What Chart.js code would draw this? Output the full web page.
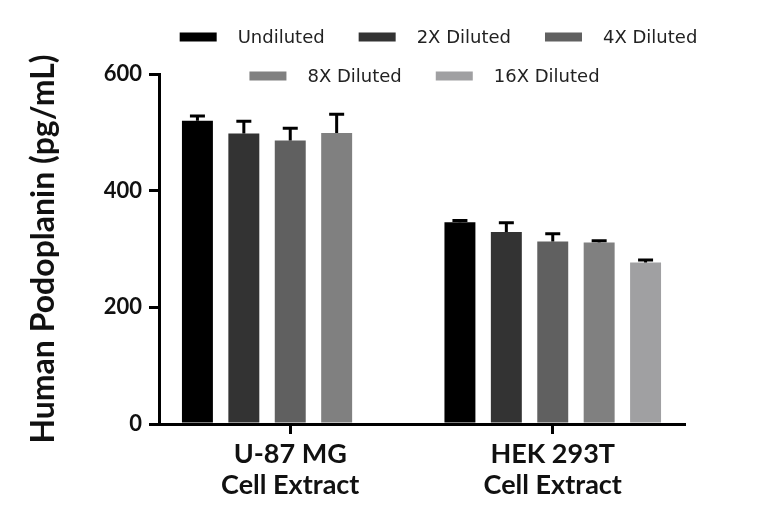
<!DOCTYPE html>
<html>
<head>
<meta charset="utf-8">
<script src="https://cdn.jsdelivr.net/npm/chart.js@4.4.0/dist/chart.umd.min.js"></script>
<style>
  html, body { margin: 0; padding: 0; background: #fff; }
  #wrap { width: 768px; height: 526px; }
</style>
</head>
<body>
<div id="wrap"><canvas id="chart"></canvas></div>
<script>
// 数据
const categories = [['U-87 MG', 'Cell Extract'], ['HEK 293T', 'Cell Extract']];
const seriesNames = ['Undiluted', '2X Diluted', '4X Diluted', '8X Diluted', '16X Diluted'];
const seriesColors = ['#000000', '#333333', '#606060', '#808080', '#a0a0a2'];

const undiluted = [520, 346];
const diluted2x = [498, 329];
const diluted4x = [486, 313];
const diluted8x = [499, 311];
const diluted16x = [null, 277];

const errUndiluted = [8, 3];
const err2x = [21, 16];
const err4x = [21, 13];
const err8x = [32, 3];
const err16x = [null, 4];

const yTicks = [0, 200, 400, 600];
const legendRows = [[0, 1, 2], [3, 4]];

const seriesValues = [undiluted, diluted2x, diluted4x, diluted8x, diluted16x];
const seriesErrors = [errUndiluted, err2x, err4x, err8x, err16x];

const BOLD_FONT = 'Lato, "DejaVu Sans", sans-serif';
const LEGEND_FONT = '"DejaVu Sans", sans-serif';

// 误差线（只画上方）
const errorBars = {
    id: 'errorBars',
    afterDatasetsDraw(chart) {
        const ctx = chart.ctx;
        const yScale = chart.scales.y;
        ctx.save();
        ctx.strokeStyle = '#000';
        ctx.lineWidth = 3;
        chart.data.datasets.forEach((ds, i) => {
            const meta = chart.getDatasetMeta(i);
            meta.data.forEach((bar, j) => {
                const v = ds.data[j];
                const e = seriesErrors[i][j];
                if (v === null || e === null) return;
                const yTop = yScale.getPixelForValue(v + e);
                const cap = 7.5;
                ctx.beginPath();
                ctx.moveTo(bar.x, bar.y);
                ctx.lineTo(bar.x, yTop);
                ctx.moveTo(bar.x - cap, yTop);
                ctx.lineTo(bar.x + cap, yTop);
                ctx.stroke();
            });
        });
        ctx.restore();
    }
};

// 两行图例
const rowLegend = {
    id: 'rowLegend',
    afterDraw(chart) {
        const ctx = chart.ctx;
        const area = chart.chartArea;
        const boxW = 37, boxH = 9, textGap = 21, itemGap = 34;
        const rowY = [37, 76];
        const rowShift = [17, 3];
        ctx.save();
        ctx.font = '18px ' + LEGEND_FONT;
        ctx.textBaseline = 'middle';
        legendRows.forEach((row, r) => {
            const widths = row.map(i => boxW + textGap + ctx.measureText(seriesNames[i]).width);
            const total = widths.reduce((a, b) => a + b, 0) + itemGap * (row.length - 1);
            let x = (area.left + area.right) / 2 + rowShift[r] - total / 2;
            row.forEach((i, k) => {
                ctx.fillStyle = seriesColors[i];
                ctx.fillRect(x, rowY[r] - boxH / 2, boxW, boxH);
                ctx.fillStyle = '#222';
                ctx.fillText(seriesNames[i], x + boxW + textGap, rowY[r] + 1);
                x += widths[k] + itemGap;
            });
        });
        ctx.restore();
    }
};

new Chart(document.getElementById('chart'), {
    type: 'bar',
    data: {
        labels: categories,
        datasets: seriesNames.map((name, i) => ({
            label: name,
            data: seriesValues[i],
            backgroundColor: seriesColors[i],
            borderWidth: 0,
            categoryPercentage: 0.884,
            barPercentage: 0.667
        }))
    },
    options: {
        responsive: true,
        maintainAspectRatio: false,
        animation: false,
        layout: { padding: { top: 74, right: 84, left: 22, bottom: 0 } },
        plugins: {
            legend: { display: false },
            tooltip: { enabled: false }
        },
        scales: {
            x: {
                afterFit(scale) { scale.height = 102; },
                border: { color: '#000', width: 3 },
                grid: {
                    offset: false,
                    drawOnChartArea: false,
                    color: '#000',
                    lineWidth: 3,
                    tickLength: 10
                },
                ticks: {
                    color: '#111',
                    font: { family: BOLD_FONT, size: 27, weight: 'bold', lineHeight: 1.15 },
                    padding: 5,
                    maxRotation: 0
                }
            },
            y: {
                min: 0,
                max: 600,
                afterBuildTicks(scale) {
                    scale.ticks = yTicks.map(v => ({ value: v }));
                },
                afterFit(scale) { scale.width = 137; },
                border: { color: '#000', width: 3 },
                grid: {
                    drawOnChartArea: false,
                    color: '#000',
                    lineWidth: 3,
                    tickLength: 10
                },
                ticks: {
                    color: '#111',
                    font: { family: BOLD_FONT, size: 22, weight: 'bold' },
                    padding: 7
                },
                title: {
                    display: true,
                    text: 'Human Podoplanin (pg/mL)',
                    color: '#111',
                    font: { family: BOLD_FONT, size: 32, weight: 'bold' },
                    padding: { top: 2, bottom: 2 }
                }
            }
        }
    },
    plugins: [errorBars, rowLegend]
});
</script>
</body>
</html>
